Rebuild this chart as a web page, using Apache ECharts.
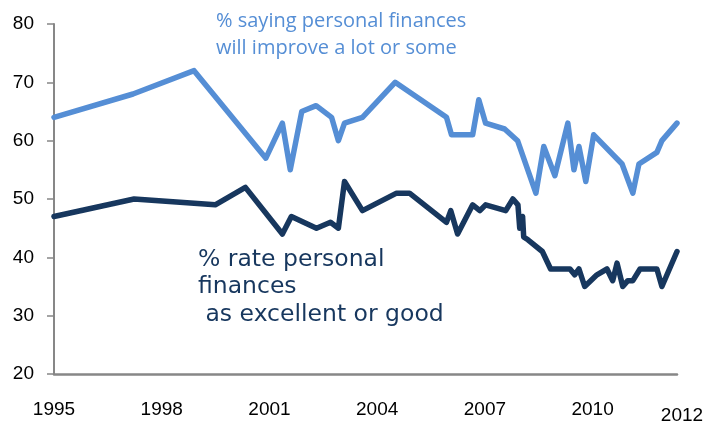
<!DOCTYPE html>
<html>
<head>
<meta charset="utf-8">
<script src="https://cdn.jsdelivr.net/npm/echarts@6/dist/echarts.min.js"></script>
<style>
html,body{margin:0;padding:0;background:#fff;}
#chart{width:709px;height:425px;}
</style>
</head>
<body>
<div id="chart"></div>
<script>
// Data
var improveYears  = [1995, 1997.2, 1998.9, 2000.9, 2001.36, 2001.58, 2001.9, 2002.3, 2002.73, 2002.92, 2003.09, 2003.59, 2004.5, 2005.93, 2006.07, 2006.66, 2006.83, 2007.02, 2007.55, 2007.91, 2008.42, 2008.64, 2008.95, 2009.31, 2009.48, 2009.62, 2009.81, 2010.03, 2010.82, 2011.12, 2011.29, 2011.79, 2011.93, 2012.35];
var improveValues = [64, 68, 72, 57, 63, 55, 65, 66, 64, 60, 63, 64, 70, 64, 61, 61, 67, 63, 62, 60, 51, 59, 54, 63, 55, 59, 53, 61, 56, 51, 56, 58, 60, 63];

var ratingYears  = [1995, 1997.23, 1999.49, 2000.33, 2001.36, 2001.61, 2002.31, 2002.7, 2002.92, 2003.09, 2003.59, 2004.54, 2004.9, 2005.93, 2006.05, 2006.24, 2006.66, 2006.86, 2007.02, 2007.58, 2007.78, 2007.92, 2007.97, 2008.05, 2008.08, 2008.2, 2008.6, 2008.83, 2009.37, 2009.5, 2009.62, 2009.78, 2010.12, 2010.4, 2010.56, 2010.68, 2010.84, 2010.98, 2011.12, 2011.32, 2011.79, 2011.93, 2012.35];
var ratingValues = [47, 50, 49, 52, 44, 47, 45, 46, 45, 53, 48, 51, 51, 46, 48, 44, 49, 48, 49, 48, 50, 49, 45, 47, 43.5, 43, 41, 38, 38, 37, 38, 35, 37, 38, 36, 39, 35, 36, 36, 38, 38, 35, 41];

var xTickStart = 1995, xTickStep = 3, xEnd = 2012.35, xEndLabel = '2012';
var yTicks = [20, 30, 40, 50, 60, 70, 80];

var improveLabel = ['% saying personal finances', 'will improve a lot or some'];
var ratingLabel = ['% rate personal', 'finances', ' as excellent or good'];

function pairs(xs, ys) { return xs.map(function (x, i) { return [x, ys[i]]; }); }

var chart = echarts.init(document.getElementById('chart'));
chart.setOption({
  animation: false,
  grid: { left: 54, right: 32, top: 24, bottom: 47 },
  xAxis: {
    type: 'value', min: xTickStart, max: xEnd, interval: xTickStep,
    splitLine: { show: false },
    axisLine: { lineStyle: { color: '#878787', width: 2.5 } },
    axisTick: { show: false },
    axisLabel: {
      showMaxLabel: true, showMinLabel: true,
      margin: 26, color: '#000', fontFamily: 'Liberation Sans', fontSize: 19,
      formatter: function (v) {
        if (Math.abs(v - xEnd) < 1e-6) return '{e|' + xEndLabel + '}';
        return String(Math.round(v));
      },
      rich: { e: { fontFamily: 'Liberation Sans', fontSize: 19, color: '#000', padding: [6, 0, 0, 10] } }
    }
  },
  yAxis: {
    type: 'value', min: yTicks[0], max: yTicks[yTicks.length - 1], interval: 10,
    splitLine: { show: false },
    axisLine: { show: true, lineStyle: { color: '#878787', width: 2 } },
    axisTick: { show: true, length: 7, lineStyle: { color: '#878787', width: 1.5 } },
    axisLabel: { margin: 20, color: '#000', fontFamily: 'Liberation Sans', fontSize: 19 }
  },
  series: [
    {
      type: 'line', data: pairs(improveYears, improveValues), showSymbol: false,
      lineStyle: { color: '#558ED5', width: 5.5, join: 'round', cap: 'round' }
    },
    {
      type: 'line', data: pairs(ratingYears, ratingValues), showSymbol: false,
      lineStyle: { color: '#17375E', width: 5.5, join: 'round', cap: 'round' }
    }
  ],
  graphic: [
    { type: 'text', left: 216, top: 8, style: { text: improveLabel.join('\n'), fill: '#558ED5', font: '20px "Open Sans"', lineHeight: 27 } },
    { type: 'text', left: 198, top: 246, style: { text: ratingLabel.join('\n'), fill: '#17375E', font: '23.5px "DejaVu Sans"', lineHeight: 27.5 } }
  ]
});
</script>
</body>
</html>
